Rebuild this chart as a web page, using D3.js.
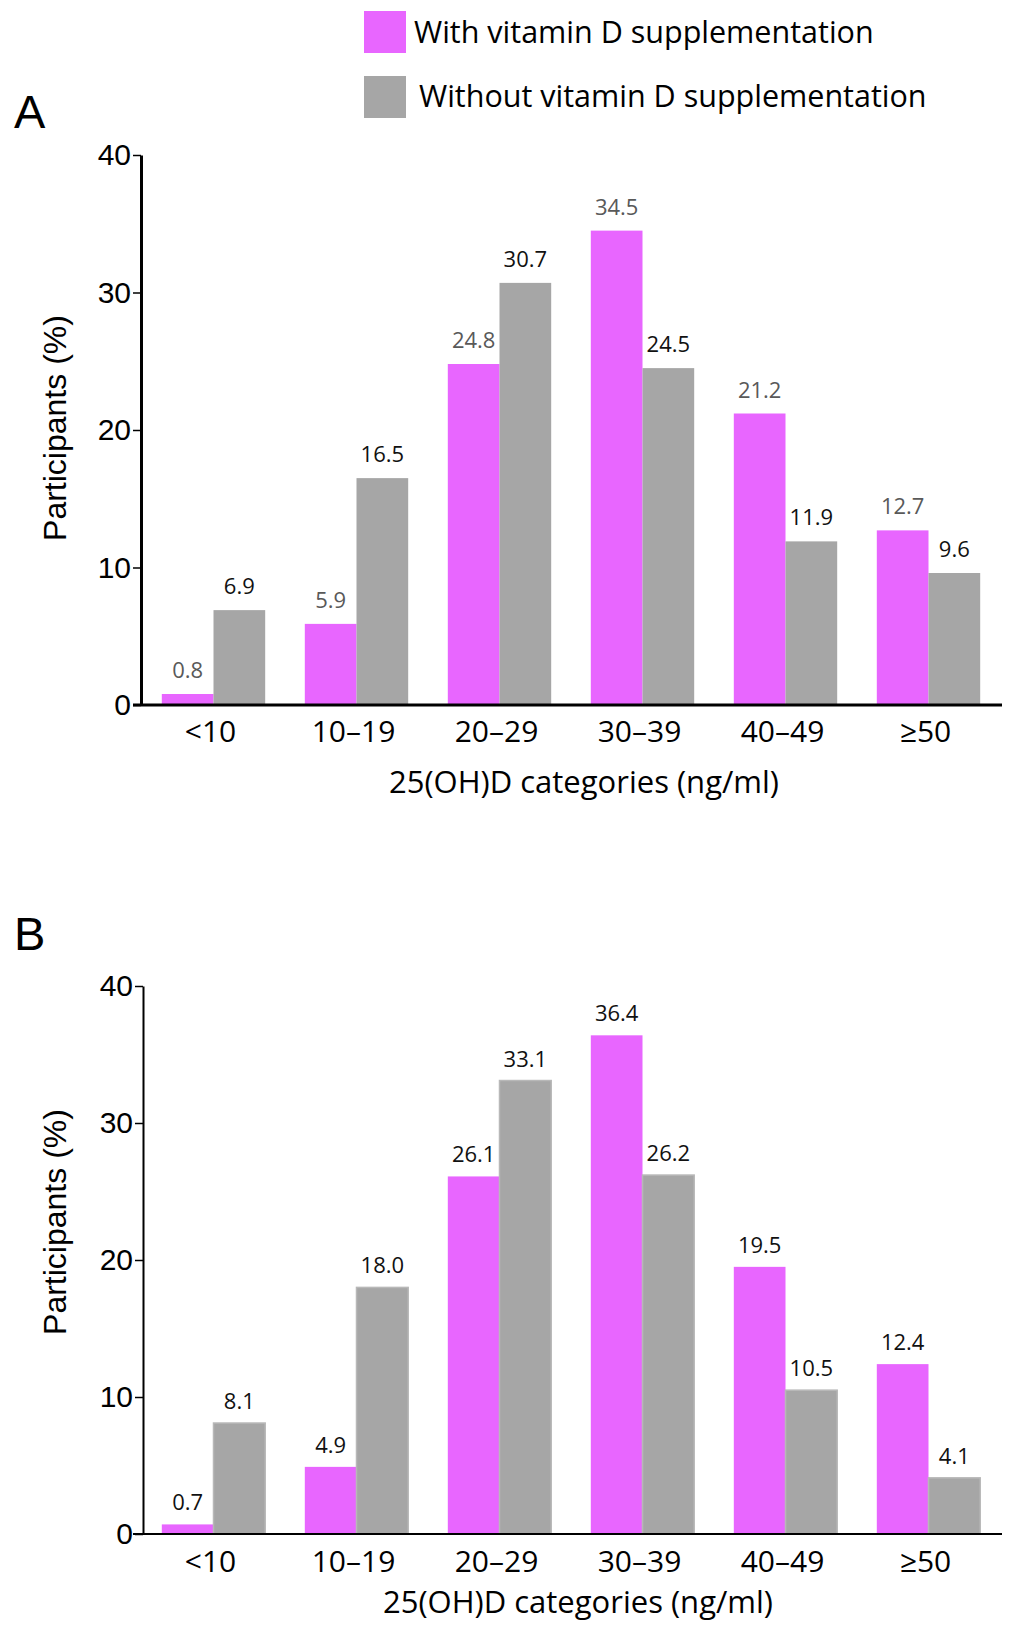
<!DOCTYPE html>
<html>
<head>
<meta charset="utf-8">
<script src="https://cdn.jsdelivr.net/npm/d3@7"></script>
<style>
  html, body { margin: 0; padding: 0; background: #fff; }
  svg { display: block; }
</style>
</head>
<body>
<svg id="chart" width="1015" height="1633"></svg>
<script>
const categories = ["<10", "10–19", "20–29", "30–39", "40–49", "≥50"];
const seriesNames = ["With vitamin D supplementation", "Without vitamin D supplementation"];
const panelA_with = [0.8, 5.9, 24.8, 34.5, 21.2, 12.7];
const panelA_without = [6.9, 16.5, 30.7, 24.5, 11.9, 9.6];
const panelB_with = [0.7, 4.9, 26.1, 36.4, 19.5, 12.4];
const panelB_without = [8.1, 18.0, 33.1, 26.2, 10.5, 4.1];
const yTicks = [0, 10, 20, 30, 40];
const panelLetters = ["A", "B"];
const yTitle = "Participants (%)";
const xTitle = "25(OH)D categories (ng/ml)";

const PINK = "#E866FF";
const GRAY = "#A6A6A6";
const svg = d3.select("#chart");

// Legend
const legend = svg.append("g");
const legendItems = [
  {name: seriesNames[0], color: PINK, y: 11, tx: 414, ty: 43},
  {name: seriesNames[1], color: GRAY, y: 76, tx: 419, ty: 107}
];
legendItems.forEach(it => {
  legend.append("rect").attr("x", 364).attr("y", it.y).attr("width", 42).attr("height", 42)
    .attr("fill", it.color);
  legend.append("text").attr("x", it.tx).attr("y", it.ty)
    .attr("font-family", "'Open Sans', sans-serif").attr("font-size", 30.5).attr("fill", "#000")
    .text(it.name);
});

const panels = [
  {letter: panelLetters[0], withV: panelA_with, withoutV: panelA_without,
   top: 155, bottom: 705, axisX: 141, axisW: 3, letterY: 128,
   catY: 742, titleY: 793, titleX: 584, yTitleY: 428,
   labelGap: 16, withLabelColor: "#595959", withoutLabelColor: "#111", grayStroke: null},
  {letter: panelLetters[1], withV: panelB_with, withoutV: panelB_without,
   top: 986, bottom: 1534, axisX: 143, axisW: 2, letterY: 950,
   catY: 1572, titleY: 1613, titleX: 578, yTitleY: 1222,
   labelGap: 14, withLabelColor: "#111", withoutLabelColor: "#111", grayStroke: "#B8B8B8"}
];

const x = d3.scaleBand().domain(categories).range([142, 1000])
  .paddingInner(0.277).paddingOuter(0.1385);
const xs = d3.scaleBand().domain([0, 1]).range([0, x.bandwidth()]);

panels.forEach(p => {
  const g = svg.append("g");
  const y = d3.scaleLinear().domain([0, 40]).range([p.bottom, p.top]);

  // Panel letter
  g.append("text").attr("x", 14).attr("y", p.letterY)
    .attr("font-family", "'Liberation Sans', Arial, sans-serif").attr("font-size", 47)
    .text(p.letter);

  // Bars
  const data = categories.map((c, i) => ({c, vals: [p.withV[i], p.withoutV[i]]}));
  const grp = g.selectAll("g.cat").data(data).join("g")
    .attr("transform", d => `translate(${x(d.c)},0)`);
  grp.selectAll("rect").data(d => d.vals.map((v, k) => ({v, k}))).join("rect")
    .attr("x", d => xs(d.k))
    .attr("width", xs.bandwidth())
    .attr("y", d => y(d.v))
    .attr("height", d => y(0) - y(d.v))
    .attr("fill", d => d.k === 0 ? PINK : GRAY)
    .attr("stroke", d => (d.k === 1 && p.grayStroke) ? p.grayStroke : "none")
    .attr("stroke-width", 1.5);

  // Value labels
  grp.selectAll("text.val").data(d => d.vals.map((v, k) => ({v, k}))).join("text")
    .attr("class", "val")
    .attr("x", d => xs(d.k) + xs.bandwidth() / 2)
    .attr("y", d => y(d.v) - p.labelGap)
    .attr("text-anchor", "middle")
    .attr("font-family", "'Open Sans', sans-serif").attr("font-size", 22)
    .attr("fill", d => d.k === 0 ? p.withLabelColor : p.withoutLabelColor)
    .text(d => d.v.toFixed(1));

  // Y axis
  const yAxis = d3.axisLeft(y).tickValues(yTicks).tickSize(8).tickPadding(2).tickSizeOuter(0);
  const ya = g.append("g").attr("transform", `translate(${p.axisX},0)`).call(yAxis);
  ya.select(".domain").attr("stroke", "#000").attr("stroke-width", p.axisW);
  ya.selectAll(".tick line").attr("stroke", "#000").attr("stroke-width", 1.5);
  ya.selectAll(".tick text").attr("font-family", "'Liberation Sans', Arial, sans-serif")
    .attr("font-size", 30).attr("fill", "#000");

  // X axis
  const xAxis = d3.axisBottom(x).tickSize(0).tickPadding(0);
  const xa = g.append("g").attr("transform", `translate(0,${p.bottom})`).call(xAxis);
  xa.select(".domain").remove();
  xa.selectAll(".tick text")
    .attr("font-family", "'Open Sans', sans-serif").attr("font-size", 30).attr("fill", "#000")
    .attr("dy", null).attr("y", p.catY - p.bottom).attr("dx", -3);
  g.append("line").attr("x1", 133).attr("x2", 1002)
    .attr("y1", y(0)).attr("y2", y(0))
    .attr("stroke", "#000").attr("stroke-width", p.axisW);

  // Axis titles
  g.append("text").attr("x", p.titleX).attr("y", p.titleY).attr("text-anchor", "middle")
    .attr("font-family", "'Open Sans', sans-serif").attr("font-size", 31).attr("fill", "#000")
    .text(xTitle);
  g.append("text")
    .attr("transform", `translate(66,${p.yTitleY}) rotate(-90)`)
    .attr("text-anchor", "middle")
    .attr("font-family", "'Liberation Sans', Arial, sans-serif").attr("font-size", 32).attr("fill", "#000")
    .text(yTitle);
});
</script>
</body>
</html>
